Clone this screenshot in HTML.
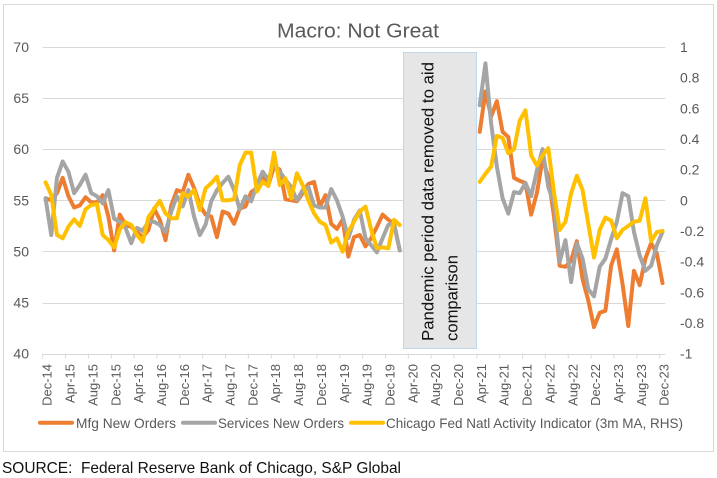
<!DOCTYPE html>
<html lang="en">
<head>
<meta charset="utf-8">
<title>Macro: Not Great</title>
<style>
html,body{margin:0;padding:0;background:#fff;}
svg{display:block;font-family:"Liberation Sans",sans-serif;}
</style>
</head>
<body>
<svg id="chart" xmlns="http://www.w3.org/2000/svg" width="717" height="478" viewBox="0 0 717 478">
  <rect x="3.5" y="4.5" width="710" height="447" fill="#fff" stroke="#d9d9d9" stroke-width="1"/>
  <text x="277" y="37.5" font-size="20" fill="#595959" textLength="162" lengthAdjust="spacingAndGlyphs">Macro: Not Great</text>
  <g id="grid"></g>
  <g id="xaxis"></g>
  <g id="yleft"></g>
  <g id="yright"></g>
  <g id="series"></g>
  <g>
    <rect x="403.5" y="52.5" width="73" height="296" fill="#e7e6e6" stroke="#bdd7ee" stroke-width="1"/>
    <text transform="translate(433.5,341) rotate(-90)" font-size="17" fill="#111" textLength="279" lengthAdjust="spacingAndGlyphs">Pandemic period data removed to aid</text>
    <text transform="translate(457.5,341) rotate(-90)" font-size="17" fill="#111" textLength="86" lengthAdjust="spacingAndGlyphs">comparison</text>
  </g>
  <g>
    <g>
      <line x1="40" y1="422.7" x2="72" y2="422.7" stroke="#ed7d31" stroke-width="4" stroke-linecap="round"/>
      <text x="76" y="428" font-size="14" fill="#595959" textLength="100" lengthAdjust="spacingAndGlyphs">Mfg New Orders</text>
    </g>
    <g>
      <line x1="183" y1="422.7" x2="215" y2="422.7" stroke="#a5a5a5" stroke-width="4" stroke-linecap="round"/>
      <text x="218" y="428" font-size="14" fill="#595959" textLength="126" lengthAdjust="spacingAndGlyphs">Services New Orders</text>
    </g>
    <g>
      <line x1="351" y1="422.7" x2="383" y2="422.7" stroke="#ffc000" stroke-width="4" stroke-linecap="round"/>
      <text x="386" y="428" font-size="14" fill="#595959" textLength="297" lengthAdjust="spacingAndGlyphs">Chicago Fed Natl Activity Indicator (3m MA, RHS)</text>
    </g>
  </g>
  <text x="2" y="473" font-size="16" fill="#111" xml:space="preserve" style="white-space:pre" textLength="399" lengthAdjust="spacingAndGlyphs">SOURCE:  Federal Reserve Bank of Chicago, S&amp;P Global</text>
</svg>
<script>
const tickLabels = ["Dec-14","Apr-15","Aug-15","Dec-15","Apr-16","Aug-16","Dec-16","Apr-17","Aug-17","Dec-17","Apr-18","Aug-18","Dec-18","Apr-19","Aug-19","Dec-19","Apr-20","Aug-20","Dec-20","Apr-21","Aug-21","Dec-21","Apr-22","Aug-22","Dec-22","Apr-23","Aug-23","Dec-23"];
const leftTicks = [40,45,50,55,60,65,70];
const rightTicks = [-1,-0.8,-0.6,-0.4,-0.2,0,0.2,0.4,0.6,0.8,1];
const mfgNewOrders = [55.2,55.0,55.7,57.2,55.4,54.3,54.5,55.3,54.8,54.8,55.5,53.4,50.1,53.6,52.6,52.4,51.9,51.4,52.1,54.2,53.1,51.1,54.5,56,55.8,57.5,56.2,54.5,53.6,53.4,51.4,53.9,53.7,52.7,54.2,54.4,55.8,56.2,57.2,56.5,58.3,58,55.1,55,54.9,55.7,56.6,56.8,54.4,55.5,52.7,52.2,53.1,49.5,51.4,51.6,50.5,51.3,52.4,53.6,53.1,52.7,50.1,null,null,null,null,null,null,null,null,null,null,null,null,null,61.7,65.65,63.2,64.7,61.7,61.2,57.2,56.9,56.7,53.6,55.7,59,57.3,53.4,48.6,48.5,49.1,51,47.3,45.2,42.6,44,44.2,48.6,50.2,46.8,42.7,48.1,46.7,49.3,50.8,49.8,46.9];
const servicesNewOrders = [55.2,51.6,57.2,58.8,57.8,55.7,56.5,57.5,55.7,55.4,54.7,56,53.2,52.9,52.3,50.8,52.3,52,52.9,52.9,52.6,51.9,53.9,55.4,54.4,56,53.4,51.6,52.6,54.9,56,56.7,57.3,56,54.1,55.4,54.9,56.5,57.8,57,58.6,57.8,57,56.3,55,56,56.3,54.5,54.3,54.3,56.1,55,53.4,51.3,53.1,54,51.3,50.6,49.9,51.3,52.6,52.7,50.1,null,null,null,null,null,null,null,null,null,null,null,null,null,64.3,68.4,62.5,58.3,55.2,53.7,55.8,55.7,56.7,55.4,57.9,60,56.3,54.7,49,51.1,47,50.8,49.3,46.3,45.6,48.5,49.3,51.2,52.9,55.7,55.4,51.9,49.6,48.1,48.6,50.6,51.9];
const chicagoFedRhs = [0.117,0.035,-0.226,-0.248,-0.172,-0.124,-0.167,-0.059,-0.03,-0.024,-0.226,-0.259,-0.307,-0.189,-0.143,-0.161,-0.226,-0.27,-0.111,-0.057,-0.004,-0.085,-0.117,-0.117,0.046,0.024,0.067,-0.063,0.078,0.111,0.154,0,0,0.007,0.23,0.311,0.311,0.057,0.122,0.093,0.311,0.1,0.143,0.013,0.176,0.1,0,-0.085,-0.139,-0.161,-0.276,-0.248,-0.335,-0.204,-0.139,-0.074,-0.041,-0.193,-0.313,-0.307,-0.313,-0.128,-0.161,null,null,null,null,null,null,null,null,null,null,null,null,null,0.12,0.173,0.22,0.42,0.407,0.307,0.333,0.52,0.587,0.293,0.227,0.293,0.34,0.05,-0.193,-0.14,0.047,0.16,0.067,-0.153,-0.373,-0.193,-0.113,-0.133,-0.247,-0.193,-0.167,-0.14,-0.133,0.013,-0.267,-0.207,-0.2];

const NS = 'http://www.w3.org/2000/svg';
const plotL = 42.7, plotR = 665.4, plotT = 47, plotB = 353.6;
const step = (plotR - plotL) / mfgNewOrders.length;
const xAt = i => plotL + step * (i + 0.5);
const yLeft = v => plotB - (v - 40) / 30 * (plotB - plotT);
const yRight = v => plotB - (v + 1) / 2 * (plotB - plotT);

function mk(tag, attrs, parent, txt) {
  const el = document.createElementNS(NS, tag);
  for (const k in attrs) el.setAttribute(k, attrs[k]);
  if (txt !== undefined) el.textContent = txt;
  parent.appendChild(el);
  return el;
}

const gridG = document.getElementById('grid');
const xG = document.getElementById('xaxis');
const ylG = document.getElementById('yleft');
const yrG = document.getElementById('yright');
const seriesG = document.getElementById('series');

leftTicks.forEach(v => {
  const y = Math.round(yLeft(v)) + 0.5;
  const ln = mk('line', {x1: plotL, x2: plotR, y1: y, y2: y, stroke: '#d9d9d9', 'stroke-width': 1}, gridG);
  
  
  const t = mk('text', {x: 29, y: yLeft(v) + 5, 'font-size': 14, fill: '#595959', 'text-anchor': 'end'}, ylG, String(v));
  
  
});

rightTicks.forEach(v => {
  const t = mk('text', {x: 680, y: yRight(v) + 5, 'font-size': 14, fill: '#595959'}, yrG, String(v));
  
  
});

tickLabels.forEach((lab, k) => {
  const i = k * 4;
  const tx = plotL + step * i;
  const tk = mk('line', {x1: tx, x2: tx, y1: plotB, y2: plotB + 5, stroke: '#d9d9d9', 'stroke-width': 1}, xG);
  
  
  const lx = tx + 9;
  const t = mk('text', {transform: 'translate(' + lx + ',364) rotate(-90)', 'font-size': 13, fill: '#595959', 'text-anchor': 'end'}, xG, lab);
  
  
});

function drawSeries(values, yFn, color, name) {
  let d = '';
  let pen = false;
  values.forEach((v, i) => {
    if (v === null) { pen = false; return; }
    d += (pen ? 'L' : 'M') + xAt(i).toFixed(2) + ' ' + yFn(v).toFixed(2);
    pen = true;
  });
  const p = mk('path', {d: d, fill: 'none', stroke: color, 'stroke-width': 4, 'stroke-linejoin': 'round', 'stroke-linecap': 'round'}, seriesG);
  
  
}

drawSeries(mfgNewOrders, yLeft, '#ed7d31', 'mfg-new-orders-line');
drawSeries(servicesNewOrders, yLeft, '#a5a5a5', 'services-new-orders-line');
drawSeries(chicagoFedRhs, yRight, '#ffc000', 'chicago-fed-activity-line');
</script>
</body>
</html>
